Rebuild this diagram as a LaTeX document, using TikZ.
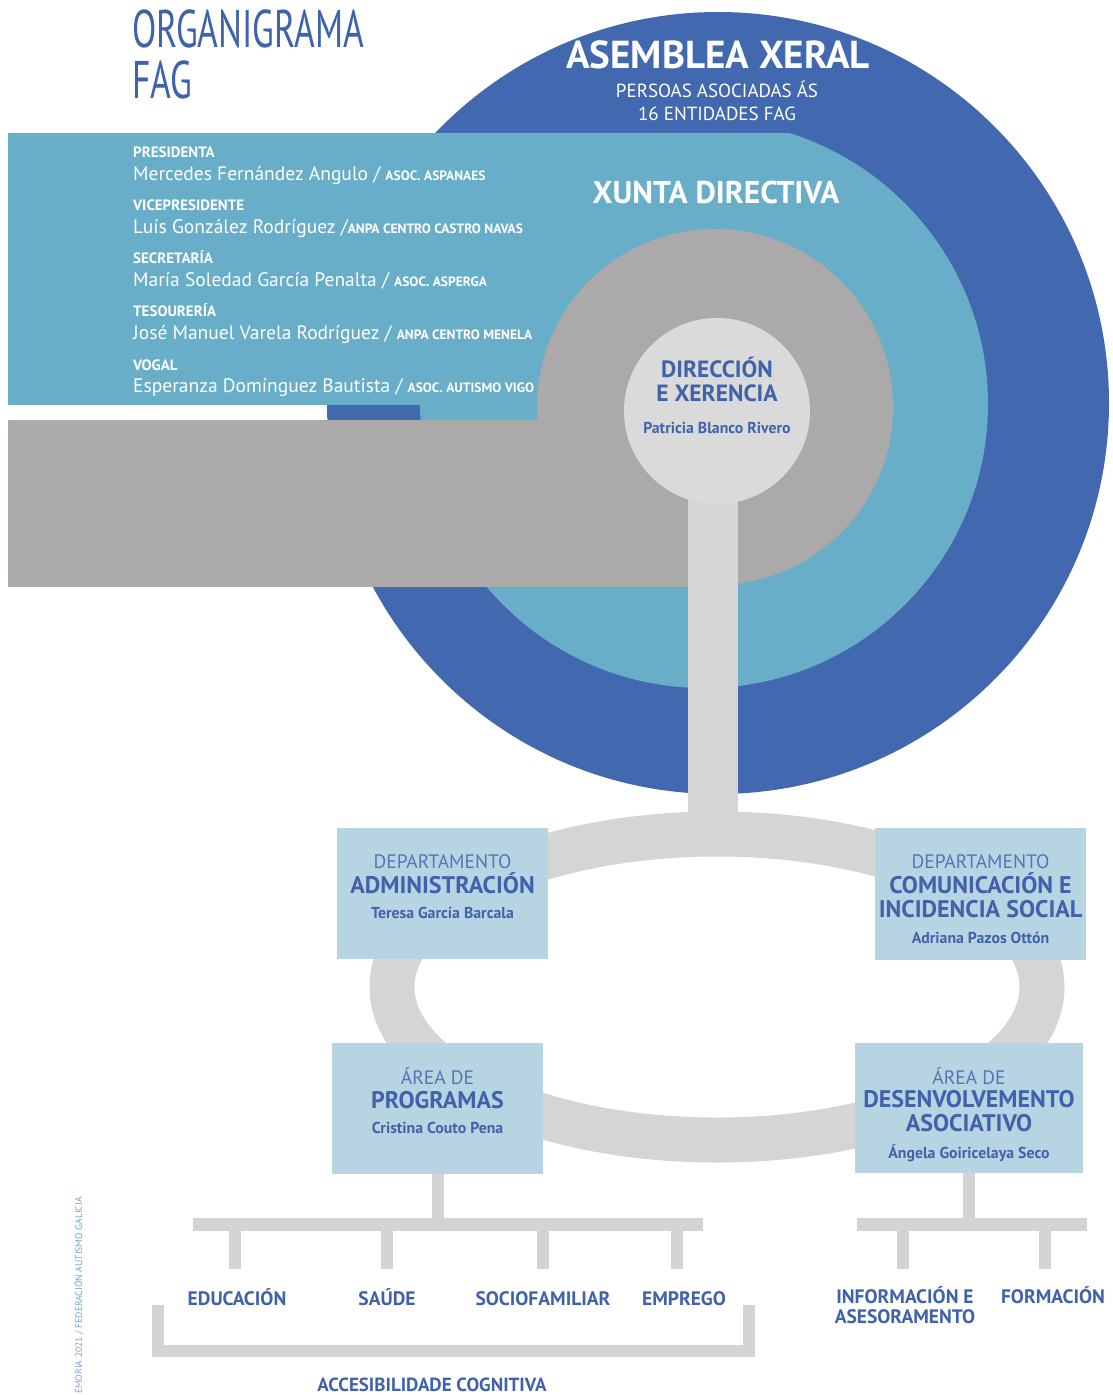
\documentclass[tikz,border=0pt]{standalone}
\usepackage{fontspec}
\setmainfont{PT Sans}
\usepackage{graphicx}

\definecolor{asmblue}{RGB}{66,104,176}
\definecolor{boardblue}{RGB}{104,174,200}
\definecolor{midgray}{RGB}{172,169,170}
\definecolor{ringgray}{RGB}{214,213,213}
\definecolor{dirgray}{RGB}{218,218,219}
\definecolor{boxblue}{RGB}{183,212,227}
\definecolor{inkblue}{RGB}{63,98,170}
\definecolor{softblue}{RGB}{84,118,182}
\definecolor{treegray}{RGB}{212,212,212}
\definecolor{sideblue}{RGB}{135,162,210}
\definecolor{sideteal}{RGB}{100,172,200}

\newcommand{\fsz}[2]{\fontsize{#1pt}{#2pt}\selectfont}
\newcommand{\assocfont}{\fsz{13.5}{15}\bfseries}

\tikzset{
  txt/.style={inner sep=0pt, anchor=base},
  role/.style={txt, anchor=base west, text=white, font=\fsz{15}{17}\bfseries},
  member/.style={txt, anchor=base west, text=white, font=\fsz{19.5}{22}},
  deptbox/.style={fill=boxblue, draw=none, inner sep=0pt},
  boxsmall/.style={txt, text=softblue, font=\fsz{19.5}{21}},
  boxbig/.style={txt, text=inkblue, font=\fsz{24}{26}\bfseries},
  boxname/.style={txt, text=inkblue, font=\fsz{15.8}{18}\bfseries},
  leaf/.style={txt, text=inkblue, font=\fsz{19.5}{21}\bfseries},
  conn/.style={draw=treegray, line width=12pt},
}

\begin{document}
\begin{tikzpicture}[x=1pt,y=-1pt]
\useasboundingbox (0,0) rectangle (1112,1395);
\fill[white] (0,0) rectangle (1112,1395);

% ---- nested rings: assembly, board, management ----
\fill[asmblue] (718,403) circle[radius=391pt];
\begin{scope}
  \clip (0,133) rectangle (1112,1395);
  \fill[boardblue] (8,133) rectangle (704,405);
  \fill[boardblue] (704,404) circle[radius=284pt];
\end{scope}
\fill[midgray] (8,420) rectangle (715,587);
\fill[midgray] (715,407) circle[radius=178pt];

% ---- title ----
\node[txt, anchor=base west, text=inkblue, font=\fsz{53}{56}] (title1) at (132,47)
  {\scalebox{0.67}[1]{ORGANIGRAMA}};
\node[txt, anchor=base west, text=inkblue, font=\fsz{53}{56}] (title2) at (132,98)
  {\scalebox{0.67}[1]{FAG}};

% ---- general assembly ----
\node[txt, text=white, font=\fsz{39}{42}\bfseries] (asm) at (718,68) {ASEMBLEA XERAL};
\node[txt, text=white, font=\fsz{19}{21}] (asm1) at (717,97) {PERSOAS ASOCIADAS ÁS};
\node[txt, text=white, font=\fsz{19}{21}] (asm2) at (717,120) {16 ENTIDADES FAG};

% ---- board of directors ----
\node[txt, text=white, font=\fsz{31.5}{34}\bfseries] (board) at (716,203) {XUNTA DIRECTIVA};

\node[role] (r1) at (133,157) {PRESIDENTA};
\node[member] (m1) at (133,180) {Mercedes Fernández Angulo / {\assocfont ASOC. ASPANAES}};
\node[role] (r2) at (133,210) {VICEPRESIDENTE};
\node[member] (m2) at (133,233) {Luís González Rodríguez /{\assocfont ANPA CENTRO CASTRO NAVAS}};
\node[role] (r3) at (133,263) {SECRETARÍA};
\node[member] (m3) at (133,286) {María Soledad García Penalta / {\assocfont ASOC. ASPERGA}};
\node[role] (r4) at (133,316) {TESOURERÍA};
\node[member] (m4) at (133,339) {José Manuel Varela Rodríguez / {\assocfont ANPA CENTRO MENELA}};
\node[role] (r5) at (133,370) {VOGAL};
\node[member] (m5) at (133,392) {Esperanza Domínguez Bautista / {\assocfont ASOC. AUTISMO VIGO}};

% ---- stem and ellipse ring ----
\coordinate (ringtop) at (713,835);
\coordinate (stemtop) at (713,470);
\draw[ringgray, line width=50pt] (stemtop) -- (ringtop);
\draw[ringgray, line width=45pt] (717,987) ellipse [x radius=325pt, y radius=153pt];
\node[circle, fill=dirgray, minimum size=186pt, inner sep=0pt] (dir) at (717,411) {};

\node[txt, text=inkblue, font=\fsz{23.5}{26}\bfseries] (dir1) at (717,377) {DIRECCIÓN};
\node[txt, text=inkblue, font=\fsz{23.5}{26}\bfseries] (dir2) at (717,401) {E XERENCIA};
\node[txt, text=inkblue, font=\fsz{15.8}{18}\bfseries] (dir3) at (717,433) {Patricia Blanco Rivero};

% ---- departments and areas ----
\node[deptbox, minimum width=211pt, minimum height=131pt] (adm) at (442.5,893) {};
\node[boxsmall] (adm1) at (442.5,868) {DEPARTAMENTO};
\node[boxbig] (adm2) at (442.5,893) {ADMINISTRACIÓN};
\node[boxname] (adm3) at (442.5,918) {Teresa García Barcala};

\node[deptbox, minimum width=211pt, minimum height=132pt] (com) at (980.5,894) {};
\node[boxsmall] (com1) at (980.5,868) {DEPARTAMENTO};
\node[boxbig] (com2) at (980.5,893) {COMUNICACIÓN E};
\node[boxbig] (com3) at (980.5,917) {INCIDENCIA SOCIAL};
\node[boxname] (com4) at (980.5,943) {Adriana Pazos Ottón};

\node[deptbox, minimum width=211pt, minimum height=131pt] (prog) at (437.5,1108.5) {};
\node[boxsmall] (prog1) at (437.5,1084) {ÁREA DE};
\node[boxbig] (prog2) at (437.5,1108) {PROGRAMAS};
\node[boxname] (prog3) at (437.5,1133) {Cristina Couto Pena};

\node[deptbox, minimum width=228pt, minimum height=130pt] (des) at (969,1108) {};
\node[boxsmall] (des1) at (969,1084) {ÁREA DE};
\node[boxbig] (des2) at (969,1107) {DESENVOLVEMENTO};
\node[boxbig] (des3) at (969,1131) {ASOCIATIVO};
\node[boxname] (des4) at (969,1158) {Ángela Goiricelaya Seco};

% ---- programme lines ----
\coordinate (lbarL) at (193,1224.5);
\coordinate (lbarR) at (703,1224.5);
\node[leaf] (edu) at (237,1305) {EDUCACIÓN};
\node[leaf] (sau) at (387,1305) {SAÚDE};
\node[leaf] (soc) at (543,1305) {SOCIOFAMILIAR};
\node[leaf] (emp) at (684,1305) {EMPREGO};
\draw[conn] (prog.south) -- (prog.south |- lbarL);
\draw[conn, line width=13pt] (lbarL) -- (lbarR);
\foreach \x/\n in {235/edu,387/sau,543/soc,677/emp}{
  \coordinate (\n top) at (\x,1224.5);
  \coordinate (\n bot) at (\x,1269);
  \draw[conn] (\n top) -- (\n bot);
}

% cognitive accessibility bracket
\coordinate (brTL) at (158,1305);
\coordinate (brBL) at (158,1351);
\coordinate (brBR) at (749,1351);
\coordinate (brTR) at (749,1305);
\draw[conn, line join=miter] (brTL) -- (brBL) -- (brBR) -- (brTR);
\node[txt, text=inkblue, font=\fsz{19}{21}\bfseries] (acc) at (432,1391) {ACCESIBILIDADE COGNITIVA};

% ---- association development lines ----
\coordinate (rbarL) at (857,1224.5);
\coordinate (rbarR) at (1087,1224.5);
\node[leaf] (inf1) at (905,1303) {INFORMACIÓN E};
\node[leaf] (inf2) at (905,1323) {ASESORAMENTO};
\node[leaf] (form) at (1053,1303) {FORMACIÓN};
\draw[conn] (des.south) -- (des.south |- rbarL);
\draw[conn, line width=13pt] (rbarL) -- (rbarR);
\foreach \x/\n in {903/inf,1045/form}{
  \coordinate (\n top) at (\x,1224.5);
  \coordinate (\n bot) at (\x,1269);
  \draw[conn] (\n top) -- (\n bot);
}

% ---- running footer ----
\node[txt, rotate=90, anchor=base west, font=\fsz{9.6}{11}] (side) at (82,1394)
  {\textcolor{sideblue}{EMORIA 2021 / }\textcolor{sideteal}{FEDERACIÓN AUTISMO GALICIA}};
\end{tikzpicture}
\end{document}
